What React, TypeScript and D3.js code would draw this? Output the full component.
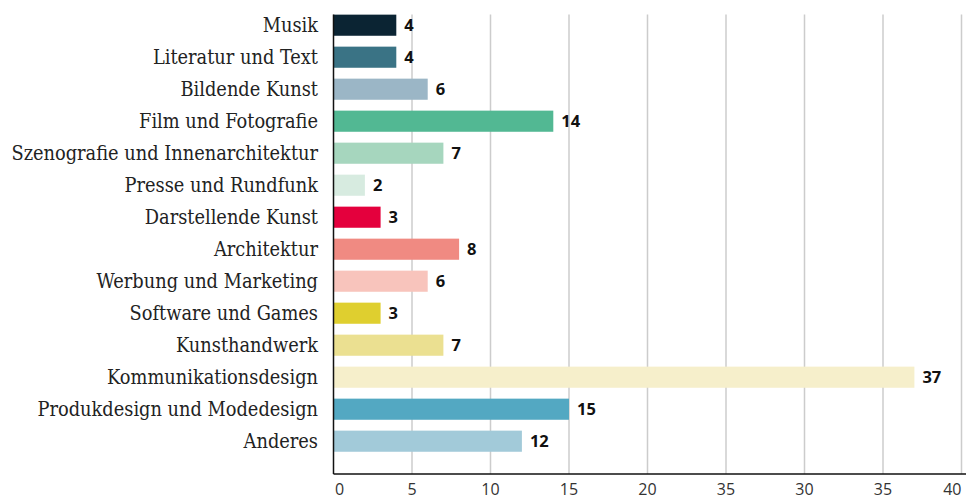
import React, { useRef, useEffect } from 'react'
import * as d3 from 'd3'

const categories = [
  'Musik',
  'Literatur und Text',
  'Bildende Kunst',
  'Film und Fotografie',
  'Szenografie und Innenarchitektur',
  'Presse und Rundfunk',
  'Darstellende Kunst',
  'Architektur',
  'Werbung und Marketing',
  'Software und Games',
  'Kunsthandwerk',
  'Kommunikationsdesign',
  'Produkdesign und Modedesign',
  'Anderes',
]
const values = [4, 4, 6, 14, 7, 2, 3, 8, 6, 3, 7, 37, 15, 12]
const colors = [
  '#0b2433', '#3a7385', '#9bb6c6', '#52b893', '#a6d6be', '#d7ebe0', '#e4003d',
  '#f08a82', '#f8c4bc', '#dfcf2f', '#ebe091', '#f6efcb', '#53a8c2', '#a2cad9',
]
const tickValues = [0, 5, 10, 15, 20, 25, 30, 35, 40]
const tickLabels = ['0', '5', '10', '15', '20', '35', '30', '35', '40']

function BarChart() {
  const svgRef = useRef<SVGSVGElement>(null)

  useEffect(() => {
    const svg = d3.select(svgRef.current)
    svg.selectAll('*').remove()

    const left = 333.5
    const right = 961.5
    const top = 9.2
    const axisY = 474

    const x = d3.scaleLinear().domain([0, 40]).range([left, right])
    const y = d3.scaleBand<string>()
      .domain(categories)
      .range([top, top + categories.length * 32])
      .paddingInner(0.34)
      .paddingOuter(0.17)

    const data = categories.map((c, i) => ({ name: c, value: values[i], color: colors[i] }))

    // grid
    svg.append('g')
      .selectAll('line')
      .data(tickValues.slice(1))
      .enter()
      .append('line')
      .attr('x1', d => x(d))
      .attr('x2', d => x(d))
      .attr('y1', 14.5)
      .attr('y2', axisY)
      .attr('stroke', '#cccccc')
      .attr('stroke-width', 1.5)

    // bars
    svg.append('g')
      .selectAll('rect')
      .data(data)
      .enter()
      .append('rect')
      .attr('x', x(0))
      .attr('y', d => y(d.name)!)
      .attr('width', d => x(d.value) - x(0))
      .attr('height', y.bandwidth())
      .attr('fill', d => d.color)

    // value labels
    svg.append('g')
      .selectAll('text')
      .data(data)
      .enter()
      .append('text')
      .attr('x', d => x(d.value) + 8)
      .attr('y', d => y(d.name)! + y.bandwidth() / 2)
      .attr('dy', '0.36em')
      .attr('font-family', '"Open Sans", sans-serif')
      .attr('font-weight', 700)
      .attr('font-size', 16.5)
      .attr('fill', '#111')
      .text(d => d.value)

    // category labels
    svg.append('g')
      .selectAll('text')
      .data(data)
      .enter()
      .append('text')
      .attr('x', 318)
      .attr('y', d => y(d.name)! + y.bandwidth() / 2)
      .attr('dy', '0.36em')
      .attr('text-anchor', 'end')
      .attr('font-family', '"DejaVu Serif", serif')
      .attr('font-stretch', 'condensed')
      .attr('font-size', 19.8)
      .attr('fill', '#222')
      .text(d => d.name)

    // axis lines
    svg.append('line')
      .attr('x1', left).attr('x2', left)
      .attr('y1', 14.5).attr('y2', axisY)
      .attr('stroke', '#111').attr('stroke-width', 1.5)
    svg.append('line')
      .attr('x1', left).attr('x2', 966)
      .attr('y1', axisY).attr('y2', axisY)
      .attr('stroke', '#111').attr('stroke-width', 1.5)

    // tick labels
    const last = tickValues.length - 1
    svg.append('g')
      .selectAll('text')
      .data(tickValues)
      .enter()
      .append('text')
      .attr('x', (d, i) => (i === 0 ? x(d) + 1.5 : x(d)))
      .attr('y', 495)
      .attr('text-anchor', (d, i) => (i === 0 ? 'start' : i === last ? 'end' : 'middle'))
      .attr('font-family', '"Open Sans", sans-serif')
      .attr('font-size', 16)
      .attr('fill', '#333')
      .text((d, i) => tickLabels[i])
  }, [])

  return <svg ref={svgRef} width={966} height={500} style={{ display: 'block' }}></svg>
}

export default function App() {
  return (
    <div style={{ position: 'absolute', top: 0, left: 0 }}>
      <BarChart />
    </div>
  )
}
